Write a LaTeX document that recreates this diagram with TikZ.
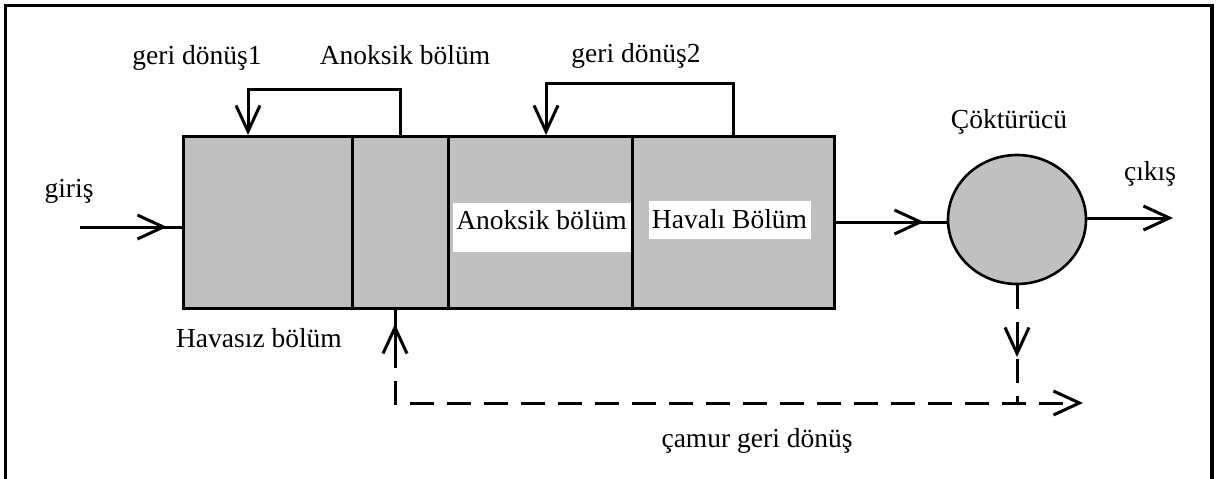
\documentclass[tikz,border=0pt]{standalone}
\usepackage{fontspec}
\setmainfont{Liberation Serif}
\usetikzlibrary{arrows.meta,shapes.geometric}
\definecolor{tank}{HTML}{C0C0C0}
\begin{document}
\begin{tikzpicture}[x=1pt,y=-1pt,
  font=\fontsize{27.5}{32}\selectfont,
  line width=3pt,
  tankpart/.style={draw, fill=tank, line width=3pt, minimum height=172pt, inner sep=0pt, anchor=north west},
  arr/.style={-{Straight Barb[length=26pt,width=24pt]}},
  dline/.style={dash pattern=on 24pt off 13pt},
  lbl/.style={anchor=base, inner sep=0pt},
  wlbl/.style={fill=white, inner sep=0pt, anchor=base west}]
\useasboundingbox (0,0) rectangle (1219,479);
% frame
\draw[line width=3.2pt] (5.5,485) -- (5.5,5.5) -- (1212,5.5) -- (1212,485);
% tank compartments
\node[tankpart, minimum width=169pt] (c1) at (182,135) {};
\node[tankpart, minimum width=96pt] (c2) at (351,135) {};
\node[tankpart, minimum width=184pt] (c3) at (447,135) {};
\node[tankpart, minimum width=202pt] (c4) at (631,135) {};
% settler
\node[draw, fill=tank, ellipse, minimum width=138pt, minimum height=129pt, inner sep=0pt, line width=2.6pt] (set) at (1017,219.5) {};
% labels inside
\node[wlbl, text height=26pt, text depth=23pt, minimum width=178pt] (l3) at (451,229) {Anoksik bölüm};
\node[wlbl, text height=27pt, text depth=11pt, minimum width=162pt] (l4) at (647,228) {Havalı Bölüm};
% outer labels
\node[lbl] (t1) at (197,64) {geri dönüş1};
\node[lbl] (t2) at (405,64) {Anoksik bölüm};
\node[lbl] (t3) at (636,62) {geri dönüş2};
\node[lbl] (t4) at (1009,128) {Çöktürücü};
\node[lbl] (t5) at (1150,180) {çıkış};
\node[lbl] (t6) at (69,197) {giriş};
\node[lbl] (t7) at (259,347) {Havasız bölüm};
\node[lbl] (t8) at (757,447) {çamur geri dönüş};
% input
\coordinate (inS) at (80,227);
\coordinate (inT) at (167,227);
\draw (inS) -- (inS -| c1.west);
\draw[arr] (inS) -- (inT);
% tank to settler
\coordinate (oS) at (833,222);
\coordinate (oT) at (924,222);
\draw (oS) -- (oT -| set.west);
\draw[arr] (oS) -- (oT);
% output
\coordinate (xT) at (1173,218);
\draw[arr] (set.east |- xT) -- (xT);
% recycle 1
\coordinate (r1) at (248,135);
\draw[arr] (c2.north) -- ++(0,-46) -| (r1);
% recycle 2
\coordinate (r2) at (546,135);
\draw[arr] (c4.north) -- ++(0,-52) -| (r2);
% sludge return
\coordinate (sdn) at (1017,403);
\coordinate (rbot) at (395,307);
\coordinate (scorner) at (395,403);
\coordinate (send) at (1083,403);
\draw[dline] (set.south) -- (sdn);
\draw[dline, arr] (rbot) -- (scorner) -- (send);
\coordinate (ua1) at (395,366);
\coordinate (ua2) at (395,324);
\draw[arr] (ua1) -- (ua2);
\coordinate (da1) at (1017,325);
\coordinate (da2) at (1017,357);
\draw[arr] (da1) -- (da2);
\end{tikzpicture}
\end{document}
